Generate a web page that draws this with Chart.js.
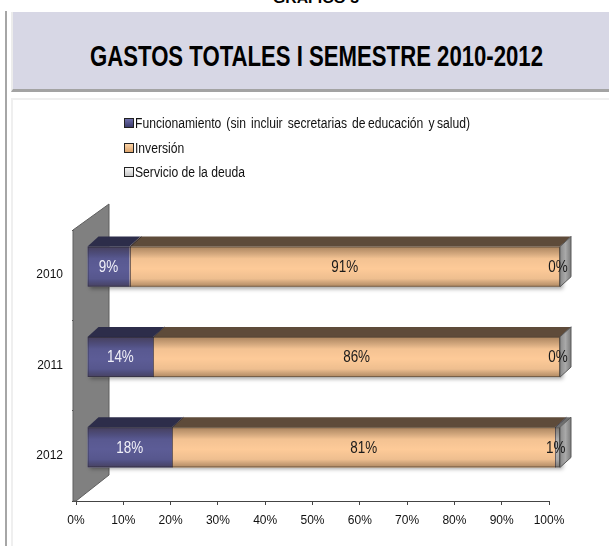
<!DOCTYPE html>
<html>
<head>
<meta charset="utf-8">
<script src="https://cdn.jsdelivr.net/npm/chart.js@4.4.1/dist/chart.umd.min.js"></script>
<style>
  html, body { margin:0; padding:0; background:#fff; width:609px; height:546px; overflow:hidden; position:relative; font-family:"Liberation Sans", Arial, sans-serif; }
  #topcap { position:absolute; top:-10px; left:0; white-space:nowrap; font:bold 14px/16px "Liberation Sans", Arial, sans-serif; color:#000; transform-origin:left top; }
  #leftline { position:absolute; left:5px; top:11px; width:2px; height:540px; background:#a6a6a6; }
  #titlebox { position:absolute; left:11px; top:12px; width:596px; height:77px; background:#d7d7e5; border-left:2px solid #ececec; border-bottom:3px solid #a3a3a3; }
  #title { position:absolute; top:41px; left:0; white-space:nowrap; font:bold 29px/30px "Liberation Sans", Arial, sans-serif; color:#000; transform-origin:left top; }
  #frame { position:absolute; left:11px; top:98px; width:620px; height:470px; border-left:2px solid #efefef; border-top:2px solid #efefef; }
  #chart { position:absolute; left:0; top:0; }
  .lg { position:absolute; left:124px; height:16px; white-space:nowrap; }
  .lgbox { position:absolute; left:0; top:3px; width:8px; height:8px; border:1px solid #222; }
  .lgtxt { position:absolute; left:11px; top:0; font:14px/16px "Liberation Sans", Arial, sans-serif; color:#111; transform-origin:left top; white-space:pre; }
</style>
</head>
<body>
<div id="leftline"></div>
<div id="topcap">GRÁFICO 3</div>
<div id="titlebox"></div>
<div id="title">GASTOS TOTALES I SEMESTRE 2010-2012</div>
<div id="frame"></div>
<canvas id="chart" width="609" height="546"></canvas>
<div id="legend"></div>
<script>
// ---------------- data ----------------
const categories = ['2010', '2011', '2012'];
const seriesNames = [
  'Funcionamiento  (sin  incluir  secretarias  de educación  y salud)',
  'Inversión',
  'Servicio de la deuda'
];
const funcionamiento = [9, 14, 18];
const inversion = [91, 86, 81];
const servicioDeuda = [0, 0, 1];
const xTickLabels = ['0%', '10%', '20%', '30%', '40%', '50%', '60%', '70%', '80%', '90%', '100%'];

// ---------------- styling ----------------
const frontColors = ['#5c5c96', '#fdca98', '#b4b4b4'];
const topColors = ['#2d2d4a', '#5e4b3a', '#6f6f6f'];
const labelColors = ['#f0f0f8', '#1a1a1a', '#1a1a1a'];

function hasFont(name) {
  const c = document.createElement('canvas').getContext('2d');
  const t = 'Funcionamiento 2010 86%';
  c.font = '16px monospace'; const a = c.measureText(t).width;
  c.font = '16px "' + name + '", monospace'; const b = c.measureText(t).width;
  c.font = '16px serif'; const a2 = c.measureText(t).width;
  c.font = '16px "' + name + '", serif'; const b2 = c.measureText(t).width;
  return a !== b && a2 !== b2;
}
const NARROW = hasFont('Liberation Sans Narrow');
const tickFont = NARROW ? { family: '"Liberation Sans Narrow", "Liberation Sans", Arial, sans-serif', size: 14 }
                        : { family: '"Liberation Sans", Arial, sans-serif', size: 12 };
const labelFamily = NARROW ? '"Liberation Sans Narrow", "Liberation Sans", Arial, sans-serif' : '"Liberation Sans", Arial, sans-serif';
const labelScaleX = NARROW ? 1 : 0.84;

// ---------------- html text fitting ----------------
function fitWidth(el, left, width) {
  const w = el.getBoundingClientRect().width;
  el.style.left = left + 'px';
  el.style.transform = 'scaleX(' + (width / w) + ')';
}
fitWidth(document.getElementById('title'), 90, 453);
fitWidth(document.getElementById('topcap'), 273, 86);

const legendEl = document.getElementById('legend');
const boxBgs = [
  'linear-gradient(#6e6eaa, #3c3c6c)',
  'linear-gradient(#fdd4a6, #dba46e)',
  'linear-gradient(#f6f6f6, #c6c6c6)'
];
const rowTops = [115, 139.5, 164];
const txtEls = [];
seriesNames.forEach((name, i) => {
  const row = document.createElement('div');
  row.className = 'lg';
  row.style.top = rowTops[i] + 'px';
  const box = document.createElement('span');
  box.className = 'lgbox';
  box.style.background = boxBgs[i];
  const txt = document.createElement('span');
  txt.className = 'lgtxt';
  txt.textContent = name;
  row.appendChild(box); row.appendChild(txt);
  legendEl.appendChild(row);
  txtEls.push(txt);
});
(function () {
  const w3 = txtEls[2].getBoundingClientRect().width;
  const s = 110 / w3;
  txtEls.forEach(t => t.style.transform = 'scaleX(' + s + ')');
  const w1 = txtEls[0].getBoundingClientRect().width;
  const spaces = (seriesNames[0].match(/ /g) || []).length;
  const extra = (335 - w1) / s / spaces;
  txtEls[0].style.wordSpacing = extra.toFixed(2) + 'px';
})();

// ---------------- 3D plugin ----------------
const SHIFT_X = 11, SHIFT_Y = -8.5;
const BAR_DX = 11, BAR_DY = -10;
const WALL_DX = 36, WALL_DY = -26;

const threeD = {
  id: 'threeD',
  beforeDatasetsDraw(chart) {
    const { ctx, chartArea: a } = chart;
    ctx.save();
    ctx.beginPath();
    ctx.moveTo(a.left - 3, a.top);
    ctx.lineTo(a.left - 3 + WALL_DX, a.top + WALL_DY);
    ctx.lineTo(a.left - 3 + WALL_DX, a.bottom + WALL_DY);
    ctx.lineTo(a.left, a.bottom);
    ctx.lineTo(a.left - 3, a.bottom);
    ctx.closePath();
    ctx.fillStyle = '#808080';
    ctx.fill();
    ctx.strokeStyle = '#5e5e5e';
    ctx.lineWidth = 1;
    ctx.stroke();
    ctx.restore();

    ctx.save();
    ctx.translate(SHIFT_X, SHIFT_Y);
    const metas = chart.data.datasets.map((d, i) => chart.getDatasetMeta(i));
    categories.forEach((c, j) => {
      const first = metas[0].data[j], last = metas[metas.length - 1].data[j];
      const h = first.height;
      ctx.save();
      ctx.shadowColor = 'rgba(0,0,0,0.35)';
      ctx.shadowBlur = 4;
      ctx.shadowOffsetX = 2;
      ctx.shadowOffsetY = 2;
      ctx.fillStyle = '#ffffff';
      ctx.fillRect(first.base, first.y - h / 2, last.x - first.base + 1, h);
      ctx.restore();
    });
  },
  afterDatasetsDraw(chart) {
    const { ctx } = chart;
    const metas = chart.data.datasets.map((d, i) => chart.getDatasetMeta(i));
    categories.forEach((c, j) => {
      const els = metas.map(m => m.data[j]);
      const h = els[0].height;
      const top = els[0].y - h / 2, bot = els[0].y + h / 2;
      const start = els[0].base, end = els[els.length - 1].x;
      const g = ctx.createLinearGradient(0, top, 0, bot);
      g.addColorStop(0, 'rgba(40,20,0,0.38)');
      g.addColorStop(0.3, 'rgba(0,0,0,0.04)');
      g.addColorStop(0.55, 'rgba(0,0,0,0)');
      g.addColorStop(0.8, 'rgba(0,0,0,0.06)');
      g.addColorStop(1, 'rgba(40,20,0,0.36)');
      ctx.fillStyle = g;
      ctx.fillRect(start, top, end - start, h);
      els.forEach((el, i) => {
        const l = el.base, r = el.x;
        if (r - l <= 0) return;
        ctx.beginPath();
        ctx.moveTo(l, top);
        ctx.lineTo(r, top);
        ctx.lineTo(r + BAR_DX, top + BAR_DY);
        ctx.lineTo(l + BAR_DX, top + BAR_DY);
        ctx.closePath();
        ctx.fillStyle = topColors[i];
        ctx.fill();
      });
      ctx.strokeStyle = 'rgba(20,20,40,0.55)';
      ctx.lineWidth = 1;
      els.forEach((el, i) => {
        if (i === els.length - 1) return;
        const r = Math.round(el.x) + 0.5;
        ctx.beginPath();
        ctx.moveTo(r, bot);
        ctx.lineTo(r, top);
        ctx.lineTo(r + BAR_DX, top + BAR_DY);
        ctx.stroke();
      });
      const rg = ctx.createLinearGradient(end, 0, end + BAR_DX, 0);
      rg.addColorStop(0, '#8a8a8a');
      rg.addColorStop(0.5, '#a9a9a9');
      rg.addColorStop(1, '#7a7a7a');
      ctx.beginPath();
      ctx.moveTo(end, top);
      ctx.lineTo(end + BAR_DX, top + BAR_DY);
      ctx.lineTo(end + BAR_DX, bot + BAR_DY);
      ctx.lineTo(end, bot);
      ctx.closePath();
      ctx.fillStyle = rg;
      ctx.fill();
      ctx.strokeStyle = '#5a5a5a';
      ctx.stroke();
      ctx.strokeStyle = 'rgba(30,30,30,0.45)';
      ctx.strokeRect(start + 0.5, top + 0.5, end - start - 1, h - 1);
    });
    ctx.restore();

    ctx.save();
    ctx.font = '16px ' + labelFamily;
    ctx.textAlign = 'center';
    ctx.textBaseline = 'middle';
    metas.forEach((m, i) => {
      m.data.forEach((el, j) => {
        const v = chart.data.datasets[i].data[j];
        const cx = (el.base + el.x) / 2 + SHIFT_X - (i === metas.length - 1 ? 2 : 0);
        const cy = el.y + SHIFT_Y + 1;
        ctx.save();
        ctx.translate(cx, cy);
        ctx.scale(labelScaleX, 1);
        ctx.fillStyle = labelColors[i];
        ctx.fillText(v + '%', 0, 0);
        ctx.restore();
      });
    });
    ctx.restore();
  }
};

// ---------------- chart ----------------
new Chart(document.getElementById('chart').getContext('2d'), {
  type: 'bar',
  data: {
    labels: categories,
    datasets: [
      { label: seriesNames[0], data: funcionamiento, backgroundColor: frontColors[0] },
      { label: seriesNames[1], data: inversion, backgroundColor: frontColors[1] },
      { label: seriesNames[2], data: servicioDeuda, backgroundColor: frontColors[2] }
    ]
  },
  options: {
    indexAxis: 'y',
    responsive: false,
    animation: false,
    layout: { padding: { left: 0, top: 230, right: 60, bottom: 0 } },
    datasets: { bar: { categoryPercentage: 1, barPercentage: 0.445, borderWidth: 0, clip: false } },
    plugins: { legend: { display: false }, tooltip: { enabled: false }, title: { display: false } },
    scales: {
      x: {
        stacked: true, min: 0, max: 100,
        ticks: { stepSize: 10, color: '#111', font: tickFont, padding: 8, maxRotation: 0, autoSkip: false,
                 callback: (v, i) => xTickLabels[i] },
        grid: { drawOnChartArea: false, drawTicks: true, tickLength: 4, color: '#444' },
        border: { color: '#444', width: 1 },
        afterFit(s) { s.height = 45; }
      },
      y: {
        stacked: true, offset: true,
        ticks: { color: '#111', font: tickFont, padding: 9 },
        grid: { offset: true, drawOnChartArea: false, drawTicks: true, tickLength: 4, color: '#444' },
        border: { color: '#444', width: 1 },
        afterFit(s) { s.width = 76; }
      }
    }
  },
  plugins: [threeD]
});
</script>
</body>
</html>
